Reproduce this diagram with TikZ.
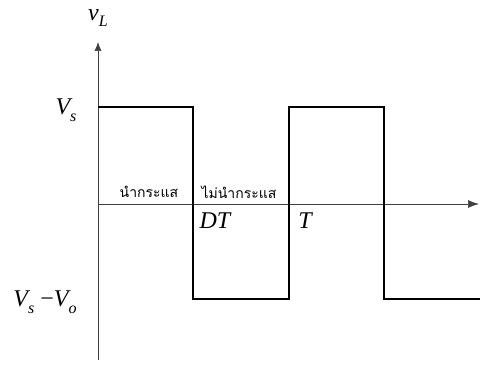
\documentclass[tikz,border=0pt]{standalone}
\usepackage{fontspec}
\setmainfont{Liberation Serif}
\newfontfamily\thaifont[Script=Thai]{Loma}
\newcommand\mysub[1]{\raisebox{-0.28em}{\fontsize{16}{16}\selectfont\itshape #1}}
\usetikzlibrary{arrows.meta}
\begin{document}
\begin{tikzpicture}[x=1pt,y=-1pt,
  axis/.style={draw=black!75,line width=0.7pt},
  wave/.style={draw=black,line width=1.6pt,line join=miter},
  lbl/.style={inner sep=0pt,font=\fontsize{24}{28}\selectfont\itshape},
  thai/.style={inner sep=0pt,font=\fontsize{14}{16}\thaifont}]
\useasboundingbox (0,0) rectangle (480,366);
% axes
\coordinate (ybot) at (98,360);
\coordinate (ytop) at (98,42);
\coordinate (xleft) at (98,204);
\coordinate (xright) at (479,204);
\draw[axis,-{Latex[length=9pt,width=7pt]}] (ybot) -- (ytop);
\draw[axis,-{Latex[length=11pt,width=8pt]}] (xleft) -- (xright);
% waveform
\coordinate (w0) at (98,107);
\coordinate (w1) at (193,107);
\coordinate (w2) at (193,299);
\coordinate (w3) at (289,299);
\coordinate (w4) at (289,107);
\coordinate (w5) at (384,107);
\coordinate (w6) at (384,299);
\coordinate (w7) at (480,299);
\draw[wave] (w0) -- (w1) -- (w2) -- (w3) -- (w4) -- (w5) -- (w6) -- (w7);
% labels
\node[lbl] (vl) at (98,18) {v\mysub{L}};
\node[lbl] (vs) at (66,110) {V\mysub{s}};
\node[lbl] (vsvo) at (45,302) {V\mysub{s} {\upshape −}V\mysub{o}};
\node[lbl] (dt) at (215,221) {DT};
\node[lbl] (t) at (305,221) {T};
\node[thai] (on) at (149,192) {นำกระแส};
\node[thai] (off) at (239,192) {ไม่นำกระแส};
\end{tikzpicture}
\end{document}
